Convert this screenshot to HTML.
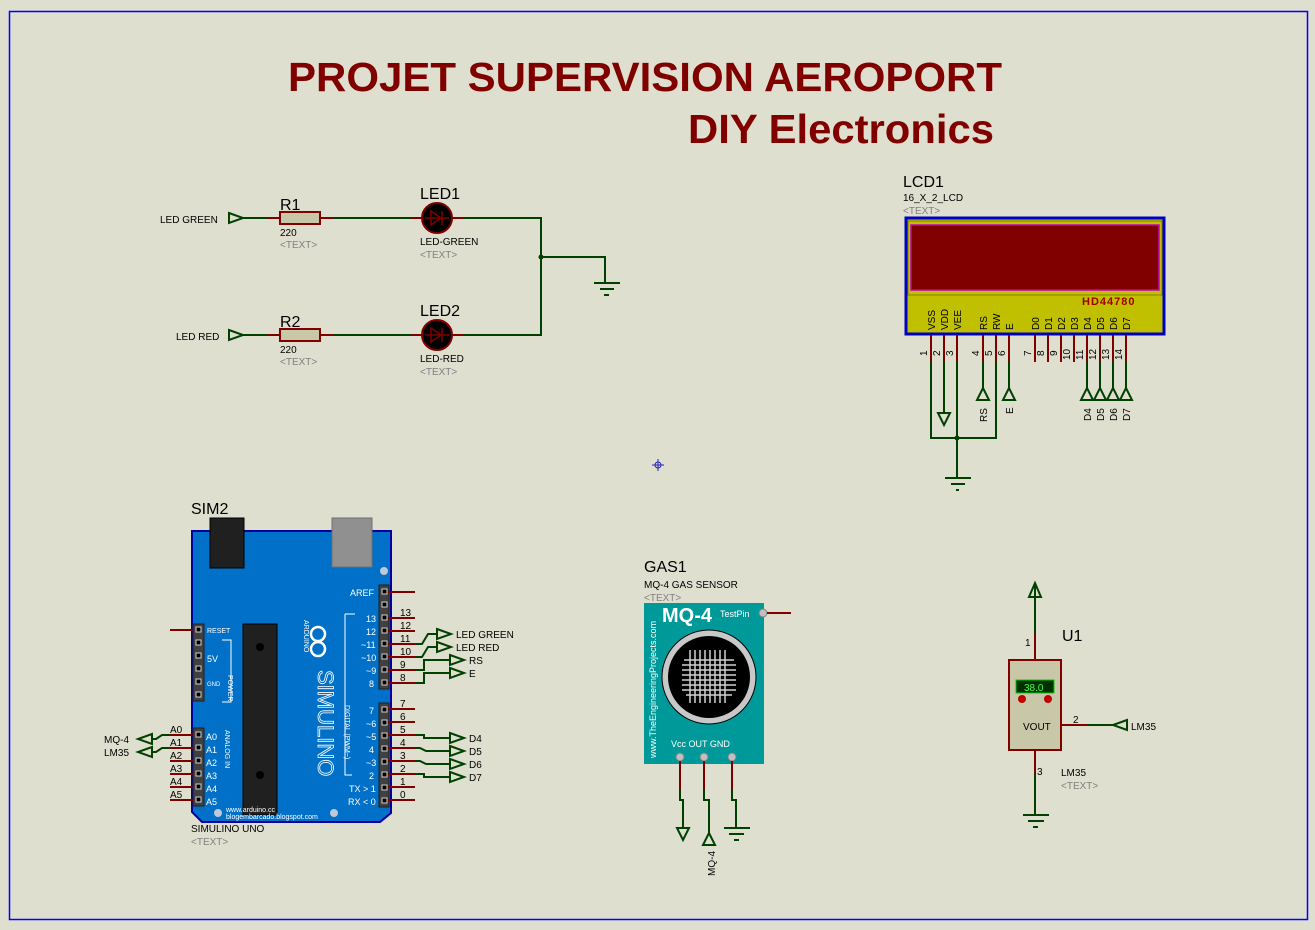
<!DOCTYPE html>
<html><head><meta charset="utf-8"><style>
html,body{margin:0;padding:0;background:#dfdfd0;}
svg{display:block;font-family:"Liberation Sans",sans-serif;}
.g{stroke:#004000;stroke-width:2;fill:none}
.r{stroke:#800000;stroke-width:2;fill:none}
.t{font-size:10px;fill:#000}
.gt{font-size:10px;fill:#808080}
</style></head><body>
<svg width="1315" height="930" viewBox="0 0 1315 930" xmlns="http://www.w3.org/2000/svg">
<rect x="0" y="0" width="1315" height="930" fill="#dfdfd0"/>
<rect x="9.5" y="11.5" width="1298" height="908" fill="none" stroke="#0000ff" stroke-width="1.5"/>
<text x="288" y="91" font-size="41" font-weight="bold" fill="#800000" textLength="714" lengthAdjust="spacingAndGlyphs">PROJET SUPERVISION AEROPORT</text>
<text x="688" y="143" font-size="41" font-weight="bold" fill="#800000" textLength="306" lengthAdjust="spacingAndGlyphs">DIY Electronics</text>

<!-- LED circuit -->
<g>
<text x="160" y="223" class="t">LED GREEN</text>
<polygon points="229,213 243,218 229,223" fill="none" stroke="#004000" stroke-width="2"/>
<path class="g" d="M243,218H268"/><path class="r" d="M268,218H280M320,218H333"/>
<rect x="280" y="212" width="40" height="12" fill="#c8c8a8" stroke="#800000" stroke-width="2"/>
<path class="g" d="M333,218H412"/><path class="r" d="M412,218H422M452,218H463"/>
<circle cx="437" cy="218" r="15" fill="#000" stroke="#800000" stroke-width="2"/>
<path d="M425,218H449M431,211V225L441,218Z M442,211V225" stroke="#800000" stroke-width="1.5" fill="none"/>
<path class="g" d="M463,218H541V335H463M541,257H605V283"/>
<circle cx="541" cy="257" r="2.5" fill="#004000"/>
<path class="g" d="M594,283H620M600,289H614M604,295H609"/>
<text x="280" y="210" font-size="16">R1</text><text x="280" y="236" class="t">220</text><text x="280" y="248" class="gt">&lt;TEXT&gt;</text>
<text x="420" y="199" font-size="16">LED1</text><text x="420" y="245" class="t">LED-GREEN</text><text x="420" y="258" class="gt">&lt;TEXT&gt;</text>

<text x="176" y="340" class="t">LED RED</text>
<polygon points="229,330 243,335 229,340" fill="none" stroke="#004000" stroke-width="2"/>
<path class="g" d="M243,335H268"/><path class="r" d="M268,335H280M320,335H333"/>
<rect x="280" y="329" width="40" height="12" fill="#c8c8a8" stroke="#800000" stroke-width="2"/>
<path class="g" d="M333,335H412"/><path class="r" d="M412,335H422M452,335H463"/>
<circle cx="437" cy="335" r="15" fill="#000" stroke="#800000" stroke-width="2"/>
<path d="M425,335H449M431,328V342L441,335Z M442,328V342" stroke="#800000" stroke-width="1.5" fill="none"/>
<text x="280" y="327" font-size="16">R2</text><text x="280" y="353" class="t">220</text><text x="280" y="365" class="gt">&lt;TEXT&gt;</text>
<text x="420" y="316" font-size="16">LED2</text><text x="420" y="362" class="t">LED-RED</text><text x="420" y="375" class="gt">&lt;TEXT&gt;</text>
</g>

<!-- LCD -->
<g>
<text x="903" y="187" font-size="16">LCD1</text>
<text x="903" y="201" class="t">16_X_2_LCD</text>
<text x="903" y="214" class="gt">&lt;TEXT&gt;</text>
<rect x="906" y="218" width="258" height="116" fill="#c0c000" stroke="#0000c0" stroke-width="3"/>
<rect x="908" y="221" width="254" height="74" fill="#c0c000" stroke="#808000" stroke-width="1"/>
<rect x="911" y="225" width="248" height="65" fill="#800000" stroke="#c000c0" stroke-width="1.5"/>
<text x="1082" y="305" font-size="11" font-weight="bold" fill="#a00000" letter-spacing="1">HD44780</text>
<g font-size="10">
<text transform="translate(935,330) rotate(-90)">VSS</text>
<text transform="translate(948,330) rotate(-90)">VDD</text>
<text transform="translate(961,330) rotate(-90)">VEE</text>
<text transform="translate(987,330) rotate(-90)">RS</text>
<text transform="translate(1000,330) rotate(-90)">RW</text>
<text transform="translate(1013,330) rotate(-90)">E</text>
<text transform="translate(1039,330) rotate(-90)">D0</text>
<text transform="translate(1052,330) rotate(-90)">D1</text>
<text transform="translate(1065,330) rotate(-90)">D2</text>
<text transform="translate(1078,330) rotate(-90)">D3</text>
<text transform="translate(1091,330) rotate(-90)">D4</text>
<text transform="translate(1104,330) rotate(-90)">D5</text>
<text transform="translate(1117,330) rotate(-90)">D6</text>
<text transform="translate(1130,330) rotate(-90)">D7</text>
<text transform="translate(927,356) rotate(-90)">1</text>
<text transform="translate(940,356) rotate(-90)">2</text>
<text transform="translate(953,356) rotate(-90)">3</text>
<text transform="translate(979,356) rotate(-90)">4</text>
<text transform="translate(992,356) rotate(-90)">5</text>
<text transform="translate(1005,356) rotate(-90)">6</text>
<text transform="translate(1031,356) rotate(-90)">7</text>
<text transform="translate(1044,356) rotate(-90)">8</text>
<text transform="translate(1057,356) rotate(-90)">9</text>
<text transform="translate(1070,360) rotate(-90)">10</text>
<text transform="translate(1083,360) rotate(-90)">11</text>
<text transform="translate(1096,360) rotate(-90)">12</text>
<text transform="translate(1109,360) rotate(-90)">13</text>
<text transform="translate(1122,360) rotate(-90)">14</text>
<text transform="translate(987,422) rotate(-90)">RS</text>
<text transform="translate(1013,414) rotate(-90)">E</text>
<text transform="translate(1091,421) rotate(-90)">D4</text>
<text transform="translate(1104,421) rotate(-90)">D5</text>
<text transform="translate(1117,421) rotate(-90)">D6</text>
<text transform="translate(1130,421) rotate(-90)">D7</text>
</g>
<path class="r" d="M931,335V362M944,335V362M957,335V362M983,335V362M996,335V362M1009,335V362M1035,335V362M1048,335V362M1061,335V362M1074,335V362M1087,335V362M1100,335V362M1113,335V362M1126,335V362"/>
<path class="g" d="M931,362V438H996V362M957,362V478M944,362V412M983,362V389M1009,362V389M1087,362V389M1100,362V389M1113,362V389M1126,362V389"/>
<circle cx="957" cy="438" r="2.5" fill="#004000"/>
<path class="g" d="M945,478H971M951,484H965M956,490H959"/>
<polygon points="938,413 950,413 944,425" fill="none" stroke="#004000" stroke-width="2"/>
<g fill="none" stroke="#004000" stroke-width="2">
<polygon points="983,388 977,400 989,400"/><polygon points="1009,388 1003,400 1015,400"/>
<polygon points="1087,388 1081,400 1093,400"/><polygon points="1100,388 1094,400 1106,400"/>
<polygon points="1113,388 1107,400 1119,400"/><polygon points="1126,388 1120,400 1132,400"/>
</g>
</g>

<!-- marker -->
<g stroke="#2020c0" stroke-width="1"><circle cx="658" cy="465" r="3" fill="none"/><path d="M652,465H664M658,459V471"/></g>

<!-- Arduino -->
<g>
<text x="191" y="514" font-size="16">SIM2</text>
<path d="M192,531H391V813L380,822H202L192,812Z" fill="#0070c8" stroke="#0000a0" stroke-width="2"/>
<rect x="210" y="518" width="34" height="50" fill="#202020" stroke="#000" stroke-width="1"/>
<rect x="332" y="518" width="40" height="49" fill="#909090" stroke="#707070"/>
<circle cx="384" cy="571" r="4" fill="#c0c8d8"/><circle cx="218" cy="813" r="4" fill="#c0c8d8"/><circle cx="334" cy="813" r="4" fill="#c0c8d8"/>
<rect x="243" y="624" width="34" height="191" fill="#202020" stroke="#000"/>
<circle cx="260" cy="647" r="4" fill="#000"/><circle cx="260" cy="775" r="4" fill="#000"/>
<rect x="193" y="624" width="11" height="77" fill="#404040" stroke="#202020"/>
<rect x="193" y="728" width="11" height="78" fill="#404040" stroke="#202020"/>
<rect x="379" y="585" width="10" height="104" fill="#404040" stroke="#202020"/>
<rect x="379" y="703" width="10" height="104" fill="#404040" stroke="#202020"/>
<g fill="#000" stroke="#d0d0d0" stroke-width="1">
<rect x="196" y="627" width="5" height="5"/><rect x="196" y="640" width="5" height="5"/><rect x="196" y="653" width="5" height="5"/><rect x="196" y="666" width="5" height="5"/><rect x="196" y="679" width="5" height="5"/><rect x="196" y="692" width="5" height="5"/>
<rect x="196" y="732" width="5" height="5"/><rect x="196" y="745" width="5" height="5"/><rect x="196" y="758" width="5" height="5"/><rect x="196" y="771" width="5" height="5"/><rect x="196" y="784" width="5" height="5"/><rect x="196" y="797" width="5" height="5"/>
<rect x="382" y="589" width="5" height="5"/><rect x="382" y="602" width="5" height="5"/><rect x="382" y="615" width="5" height="5"/><rect x="382" y="628" width="5" height="5"/><rect x="382" y="641" width="5" height="5"/><rect x="382" y="654" width="5" height="5"/><rect x="382" y="667" width="5" height="5"/><rect x="382" y="680" width="5" height="5"/>
<rect x="382" y="707" width="5" height="5"/><rect x="382" y="720" width="5" height="5"/><rect x="382" y="733" width="5" height="5"/><rect x="382" y="746" width="5" height="5"/><rect x="382" y="759" width="5" height="5"/><rect x="382" y="772" width="5" height="5"/><rect x="382" y="785" width="5" height="5"/><rect x="382" y="798" width="5" height="5"/>
</g>
<g fill="#fff" font-size="9">
<text x="350" y="596">AREF</text>
<text x="366" y="622">13</text><text x="366" y="635">12</text><text x="361" y="648">~11</text><text x="361" y="661">~10</text><text x="366" y="674">~9</text><text x="369" y="687">8</text>
<text x="369" y="714">7</text><text x="366" y="727">~6</text><text x="366" y="740">~5</text><text x="369" y="753">4</text><text x="366" y="766">~3</text><text x="369" y="779">2</text><text x="349" y="792">TX &gt; 1</text><text x="348" y="805">RX &lt; 0</text>
<text x="206" y="740">A0</text><text x="206" y="753">A1</text><text x="206" y="766">A2</text><text x="206" y="779">A3</text><text x="206" y="792">A4</text><text x="206" y="805">A5</text>
<text x="207" y="633" font-size="7">RESET</text><text x="207" y="662">5V</text><text x="207" y="686" font-size="6">GND</text>
<text x="226" y="812" font-size="7">www.arduino.cc</text><text x="226" y="819" font-size="7">blogembarcado.blogspot.com</text>
<text transform="translate(318,670) rotate(90)" font-size="22" fill="none" stroke="#fff" stroke-width="0.8">SIMULINO</text>
<text transform="translate(304,620) rotate(90)" font-size="7">ARDUINO</text>
<text transform="translate(345,705) rotate(90)" font-size="7">DIGITAL (PWM~)</text>
<text transform="translate(228,675) rotate(90)" font-size="7">POWER</text>
<text transform="translate(225,730) rotate(90)" font-size="7">ANALOG IN</text>
</g>
<circle cx="318" cy="634" r="7" fill="none" stroke="#fff" stroke-width="2.5"/><circle cx="318" cy="649" r="7" fill="none" stroke="#fff" stroke-width="2.5"/>
<path d="M345,614H355M345,614V775H352M222,640H231V702H222" stroke="#fff" fill="none"/>
<path class="r" d="M388,592H415M388,618H415M388,631H415M388,644H415M388,657H415M388,670H415M388,683H415M388,709H415M388,722H415M388,735H415M388,748H415M388,761H415M388,774H415M388,787H415M388,800H415M170,630H193M170,735H193M170,748H193M170,761H193M170,774H193M170,787H193M170,800H193"/>
<g font-size="10">
<text x="400" y="616">13</text><text x="400" y="629">12</text><text x="400" y="642">11</text><text x="400" y="655">10</text><text x="400" y="668">9</text><text x="400" y="681">8</text>
<text x="400" y="707">7</text><text x="400" y="720">6</text><text x="400" y="733">5</text><text x="400" y="746">4</text><text x="400" y="759">3</text><text x="400" y="772">2</text><text x="400" y="785">1</text><text x="400" y="798">0</text>
<text x="170" y="733">A0</text><text x="170" y="746">A1</text><text x="170" y="759">A2</text><text x="170" y="772">A3</text><text x="170" y="785">A4</text><text x="170" y="798">A5</text>
<text x="456" y="638">LED GREEN</text><text x="456" y="651">LED RED</text><text x="469" y="664">RS</text><text x="469" y="677">E</text>
<text x="469" y="742">D4</text><text x="469" y="755">D5</text><text x="469" y="768">D6</text><text x="469" y="781">D7</text>
<text x="104" y="743">MQ-4</text><text x="104" y="756">LM35</text>
<text x="191" y="832">SIMULINO UNO</text>
</g>
<text x="191" y="845" class="gt">&lt;TEXT&gt;</text>
<path class="g" d="M415,644H422L428,634H437M415,657H422L428,647H437M415,670H424V660H450M415,683H424V673H450M415,735H424V738H450M415,748H420L426,751H450M415,761H420L426,764H450M415,774H424V777H450M170,735H162L156,739H152M170,748H162L156,752H152"/>
<g fill="none" stroke="#004000" stroke-width="2">
<polygon points="437,629 451,634 437,639"/><polygon points="437,642 451,647 437,652"/>
<polygon points="450,655 464,660 450,665"/><polygon points="450,668 464,673 450,678"/>
<polygon points="450,733 464,738 450,743"/><polygon points="450,746 464,751 450,756"/>
<polygon points="450,759 464,764 450,769"/><polygon points="450,772 464,777 450,782"/>
<polygon points="152,734 138,739 152,744"/><polygon points="152,747 138,752 152,757"/>
</g>
</g>

<!-- Gas sensor -->
<g>
<text x="644" y="572" font-size="16">GAS1</text>
<text x="644" y="588" class="t">MQ-4 GAS SENSOR</text>
<text x="644" y="601" class="gt">&lt;TEXT&gt;</text>
<rect x="644" y="603" width="120" height="161" fill="#009999"/>
<text x="662" y="622" font-size="20" font-weight="bold" fill="#fff">MQ-4</text>
<text x="720" y="617" font-size="9" fill="#fff">TestPin</text>
<text transform="translate(656,758) rotate(-90)" font-size="9" fill="#fff">www.TheEngineeringProjects.com</text>
<circle cx="709" cy="677" r="47" fill="#c8c8c8" stroke="#000"/>
<circle cx="709" cy="677" r="41" fill="#000"/>
<g stroke="#d0d0d0" stroke-width="1.5">
<path d="M682,665H736M682,670H736M682,675H736M682,680H736M682,685H736M682,690H736M684,660H734M686,695H732"/>
<path d="M690,650V703M695,650V703M700,650V703M705,650V703M710,650V703M715,650V703M720,650V703M725,650V703"/>
</g>
<text x="671" y="747" font-size="9" fill="#fff">Vcc  OUT   GND</text>
<g fill="#c0c0c0" stroke="#808080"><circle cx="680" cy="757" r="4"/><circle cx="704" cy="757" r="4"/><circle cx="732" cy="757" r="4"/><circle cx="763" cy="613" r="4"/></g>
<path class="r" d="M767,613H791M680,761V790M704,761V790M732,761V790"/>
<path class="g" d="M680,790V800H683V828M704,790V800H709V833M732,790V800H736V828M724,828H750M729,834H744M734,840H739"/>
<polygon points="677,828 689,828 683,840" fill="none" stroke="#004000" stroke-width="2"/>
<polygon points="709,833 703,845 715,845" fill="none" stroke="#004000" stroke-width="2"/>
<text transform="translate(715,876) rotate(-90)" class="t">MQ-4</text>
</g>

<!-- LM35 -->
<g>
<path class="g" d="M1035,585V633M1035,773V815M1023,815H1049M1028,821H1044M1033,827H1038M1113,725H1087"/>
<polygon points="1035,583 1029,597 1041,597" fill="none" stroke="#004000" stroke-width="2"/>
<path class="r" d="M1035,633V660M1035,750V773M1061,725H1087"/>
<polygon points="1127,720 1113,725 1127,730" fill="none" stroke="#004000" stroke-width="2"/>
<rect x="1009" y="660" width="52" height="90" fill="#c8c8a8" stroke="#800000" stroke-width="2"/>
<rect x="1016" y="680" width="38" height="13" fill="#003000" stroke="#00d000"/>
<text x="1024" y="691" font-size="10" fill="#40ff40">38.0</text>
<circle cx="1022" cy="699" r="4" fill="#c00000"/><circle cx="1048" cy="699" r="4" fill="#c00000"/>
<text x="1023" y="730" font-size="10">VOUT</text>
<text x="1062" y="641" font-size="16">U1</text>
<text x="1025" y="646" class="t">1</text>
<text x="1073" y="723" class="t">2</text>
<text x="1037" y="775" class="t">3</text>
<text x="1131" y="730" class="t">LM35</text>
<text x="1061" y="776" class="t">LM35</text>
<text x="1061" y="789" class="gt">&lt;TEXT&gt;</text>
</g>
</svg>
</body></html>
